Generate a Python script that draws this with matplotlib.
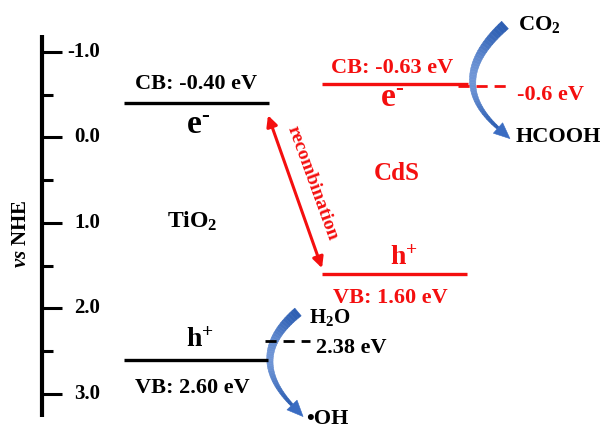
import numpy as np
import matplotlib
matplotlib.use("Agg")
import matplotlib.pyplot as plt
from matplotlib.patches import Polygon
from matplotlib.colors import to_rgb

plt.rcParams['font.family'] = ['Liberation Serif', 'DejaVu Serif']
plt.rcParams['font.weight'] = 'bold'
plt.rcParams['mathtext.fontset'] = 'custom'
plt.rcParams['mathtext.rm'] = 'Liberation Serif:bold'
plt.rcParams['mathtext.it'] = 'Liberation Serif:italic:bold'
plt.rcParams['mathtext.bf'] = 'Liberation Serif:bold'

# band edges (eV vs NHE)
tio2_cb, tio2_vb = -0.40, 2.60
cds_cb, cds_vb = -0.63, 1.60
co2_hcooh = -0.6
h2o_oh = 2.38

major_ticks = [-1.0, 0.0, 1.0, 2.0, 3.0]
minor_ticks = [-0.5, 0.5, 1.5, 2.5]

RED = '#f40f0f'
BLACK = 'black'

# vertical scale: pixels per eV and pixel row of 0 eV
PX0, PXE = 137.5, 85.4


def ev(py):
    return (py - PX0) / PXE


fig = plt.figure(figsize=(6.05, 4.30), dpi=100)
ax = fig.add_axes([0, 0, 1, 1])
ax.set_xlim(0, 605)
ax.set_ylim(ev(430), ev(0))
ax.axis('off')

# energy axis
ax.plot([42, 42], [-1.205, 3.27], color=BLACK, lw=3, solid_capstyle='butt')
for t in major_ticks:
    ax.plot([42, 62], [t, t], color=BLACK, lw=2.2, solid_capstyle='butt')
    ax.text(100, t, f"{t:.1f}", ha='right', va='center', fontsize=15)
for t in minor_ticks:
    ax.plot([42, 53], [t, t], color=BLACK, lw=2.2, solid_capstyle='butt')
ax.text(21, 1.13, r"$\mathit{vs}$ NHE", rotation=90, ha='center', va='center',
        fontsize=15)

E_MINUS = r"e$^{\text{-}}$"
H_PLUS = r"h$^{+}$"

# TiO2 bands
ax.plot([124, 269], [tio2_cb, tio2_cb], color=BLACK, lw=2.4, solid_capstyle='butt')
ax.plot([124, 268], [tio2_vb, tio2_vb], color=BLACK, lw=2.4, solid_capstyle='butt')
ax.text(196, tio2_cb - 0.168, f"CB: {tio2_cb:.2f} eV", ha='center', va='baseline',
        fontsize=16)
ax.text(198, tio2_cb + 0.36, E_MINUS, ha='center', va='baseline', fontsize=24)
ax.text(192, 1.06, r"TiO$_2$", ha='center', va='baseline', fontsize=17)
ax.text(200, tio2_vb - 0.15, H_PLUS, ha='center', va='baseline', fontsize=20)
ax.text(192, tio2_vb + 0.39, f"VB: {tio2_vb:.2f} eV", ha='center', va='baseline',
        fontsize=16)

# CdS bands
ax.plot([322, 468], [cds_cb, cds_cb], color=RED, lw=2.4, solid_capstyle='butt')
ax.plot([322, 467], [cds_vb, cds_vb], color=RED, lw=2.4, solid_capstyle='butt')
ax.text(392, cds_cb - 0.125, f"CB: {cds_cb:.2f} eV", ha='center', va='baseline',
        fontsize=16, color=RED)
ax.text(392, cds_cb + 0.273, E_MINUS, ha='center', va='baseline', fontsize=24,
        color=RED)
ax.text(397, 0.498, "CdS", ha='center', va='baseline', fontsize=18, color=RED)
ax.text(404, cds_vb - 0.107, H_PLUS, ha='center', va='baseline', fontsize=20,
        color=RED)
ax.text(390, cds_vb + 0.338, f"VB: {cds_vb:.2f} eV", ha='center', va='baseline',
        fontsize=16, color=RED)

# redox potentials
ax.plot([265, 310], [h2o_oh, h2o_oh], color=BLACK, lw=2, ls=(0, (4, 2.5)))
ax.text(316, h2o_oh + 0.143, f"{h2o_oh:.2f} eV", ha='left', va='baseline', fontsize=16)
ax.text(309, 2.17, r"H$_2$O", ha='left', va='baseline', fontsize=15)
ax.text(306, 3.35, "\u2022OH", ha='left', va='baseline', fontsize=16)

ax.plot([458, 507], [co2_hcooh, co2_hcooh], color=RED, lw=2, ls=(0, (4, 2.5)))
ax.text(517, -0.439, f"{co2_hcooh:.1f} eV", ha='left', va='baseline', fontsize=16,
        color=RED)
ax.text(518, -1.259, r"CO$_2$", ha='left', va='baseline', fontsize=16)
ax.text(516, 0.053, "HCOOH", ha='left', va='baseline', fontsize=16)

# recombination between TiO2 CB and CdS VB
ax.annotate("", xy=(268, tio2_cb + 0.14), xytext=(322, cds_vb - 0.07),
            arrowprops=dict(arrowstyle='<|-|>', color=RED, lw=2.2,
                            mutation_scale=16, shrinkA=0, shrinkB=0))
ax.text(312, 0.535, "recombination", rotation=-70, rotation_mode='anchor',
        ha='center', va='center', fontsize=14, color=RED)


def curved_arrow(p0, p1, p2, w0=10, w1=3, head_w=14, head_l=16, n=40):
    """Tapered quadratic-Bezier arrow; points given as (x, eV)."""
    P = [np.array([x, PX0 + PXE * e]) for x, e in (p0, p1, p2)]
    t = np.linspace(0, 1, n)[:, None]
    c = (1 - t) ** 2 * P[0] + 2 * (1 - t) * t * P[1] + t ** 2 * P[2]
    d = 2 * (1 - t) * (P[1] - P[0]) + 2 * t * (P[2] - P[1])
    d /= np.linalg.norm(d, axis=1)[:, None]
    nrm = np.column_stack([-d[:, 1], d[:, 0]])
    w = (w0 + (w1 - w0) * t[:, 0])[:, None] / 2
    left, right = c + nrm * w, c - nrm * w
    dark, light = np.array(to_rgb('#2d5fb3')), np.array(to_rgb('#6f95d6'))
    for i in range(n - 1):
        s = (t[i, 0] + t[i + 1, 0]) / 2
        mix = np.sin(np.pi * s) ** 1.5
        col = dark + (light - dark) * mix
        quad = np.array([left[i], left[i + 1], right[i + 1], right[i]])
        quad[:, 1] = ev(quad[:, 1])
        ax.add_patch(Polygon(quad, closed=True, fc=col, ec=col, lw=0.4))
    tip = c[-1] + d[-1] * head_l
    head = np.array([c[-1] + nrm[-1] * head_w / 2, tip, c[-1] - nrm[-1] * head_w / 2])
    head[:, 1] = ev(head[:, 1])
    ax.add_patch(Polygon(head, closed=True, fc='#3a6cc2', ec='#3a6cc2', lw=0.4))


curved_arrow((505, ev(25)), (444, ev(80)), (498, ev(128)))
curved_arrow((298, ev(312)), (245, ev(356)), (292, ev(405)))

fig.savefig("out.png", dpi=100, facecolor='white')
